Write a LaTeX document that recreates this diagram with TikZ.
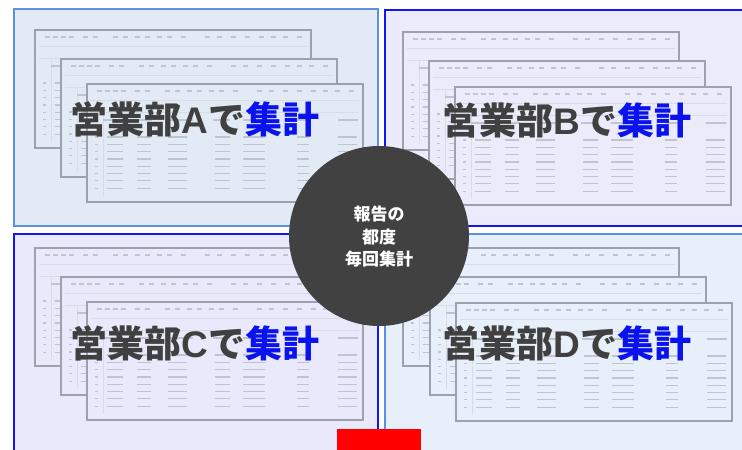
\documentclass[tikz,border=0pt]{standalone}
\usepackage{fontspec}
\newfontfamily\jp{Noto Sans CJK JP}
\newfontfamily\lat{Liberation Sans}
\definecolor{fillA}{HTML}{E2EBF5}
\definecolor{fillB}{HTML}{EBEBFB}
\definecolor{fillC}{HTML}{E9E9FB}
\definecolor{fillD}{HTML}{E7EFFB}
\definecolor{edgeA}{HTML}{5C90E6}
\definecolor{edgeB}{HTML}{1414F5}
\definecolor{sheetedge}{HTML}{9CA1AC}
\definecolor{sheetmark}{HTML}{BFC4CE}
\definecolor{txtgray}{HTML}{404040}
\definecolor{kblue}{HTML}{0A12EE}
\definecolor{hubgray}{HTML}{414141}
\tikzset{
  panel/.style={line width=1.4pt},
  sheetbox/.style={draw=sheetedge, line width=1.6pt},
  cellmark/.style={draw=sheetmark, line width=1.2pt},
  faint/.style={draw=sheetmark!60, line width=0.6pt},
  biglabel/.style={text=txtgray, font=\jp\bfseries\fontsize{37}{40}\selectfont, inner sep=0pt},
  hubtext/.style={text=white, align=center, font=\jp\bfseries\fontsize{17}{22.5}\selectfont, inner sep=0pt}
}
\newcommand\drawsheet[3]{%
  \begin{scope}[shift={(#1,#2)}]
    \draw[sheetbox, fill=#3] (0,0) rectangle (276,118);
    % toolbar marks
    \foreach \t in {10,18,26,34,48,58,78,88,100,110,122,132,146,170,182,196,210,224,236,248,262}
      \draw[cellmark] (\t,7) -- ++(5,0);
    \draw[faint] (4,16) -- (272,16);
    \draw[faint] (4,28) -- (272,28);
    \draw[faint] (16,28) -- (16,112);
    % header row
    \foreach \a/\b in {16/36,50/65,81/106,126/143,156/180,210/223,251/271}
      \draw[cellmark] (\a,36) -- (\b,36);
    % data rows
    \foreach \r in {0,...,7}{
      \draw[cellmark] (8,53+7.3*\r) -- ++(3,0);
      \foreach \a/\b in {20/36,50/64,81/100,128/143,156/178,210/222,251/270}
        \draw[cellmark] (\a,53+7.3*\r) -- (\b,53+7.3*\r);
    }
  \end{scope}}
\begin{document}
\begin{tikzpicture}[x=1pt,y=-1pt]
\useasboundingbox (0,0) rectangle (742,450);
\clip (0,0) rectangle (742,450);
\fill[white] (0,0) rectangle (742,450);
% panels
\draw[panel, draw=edgeA, fill=fillA] (14,9) rectangle (378,226);
\draw[panel, draw=edgeB, fill=fillB] (385,10) rectangle (760,226);
\draw[panel, draw=edgeB, fill=fillC] (14,234) rectangle (378,460);
\draw[panel, draw=edgeA, fill=fillD] (385,234) rectangle (760,460);
% sheets A
\drawsheet{35}{30}{fillA}
\drawsheet{61}{59}{fillA}
\drawsheet{87}{84}{fillA}
% sheets B
\drawsheet{403}{32}{fillB}
\drawsheet{429}{61}{fillB}
\drawsheet{455}{87}{fillB}
% sheets C
\drawsheet{35}{248}{fillC}
\drawsheet{61}{277}{fillC}
\drawsheet{87}{302}{fillC}
% sheets D
\drawsheet{403}{248}{fillD}
\drawsheet{430}{277}{fillD}
\drawsheet{456}{303}{fillD}
% labels
\node[biglabel] (la) at (195,119) {営業部{\lat A}で\textcolor{kblue}{集計}};
\node[biglabel] (lb) at (567,120) {営業部{\lat B}で\textcolor{kblue}{集計}};
\node[biglabel] (lc) at (195,343) {営業部{\lat C}で\textcolor{kblue}{集計}};
\node[biglabel] (ld) at (567,343) {営業部{\lat D}で\textcolor{kblue}{集計}};
% red marker
\fill[red] (337,429) rectangle (421,450);
% hub
\node[circle, fill=hubgray, minimum size=180pt, inner sep=0pt] (hub) at (379,236) {};
\node[hubtext] (hubt) at (379,237) {報告の\\都度\\毎回集計};
\end{tikzpicture}
\end{document}
